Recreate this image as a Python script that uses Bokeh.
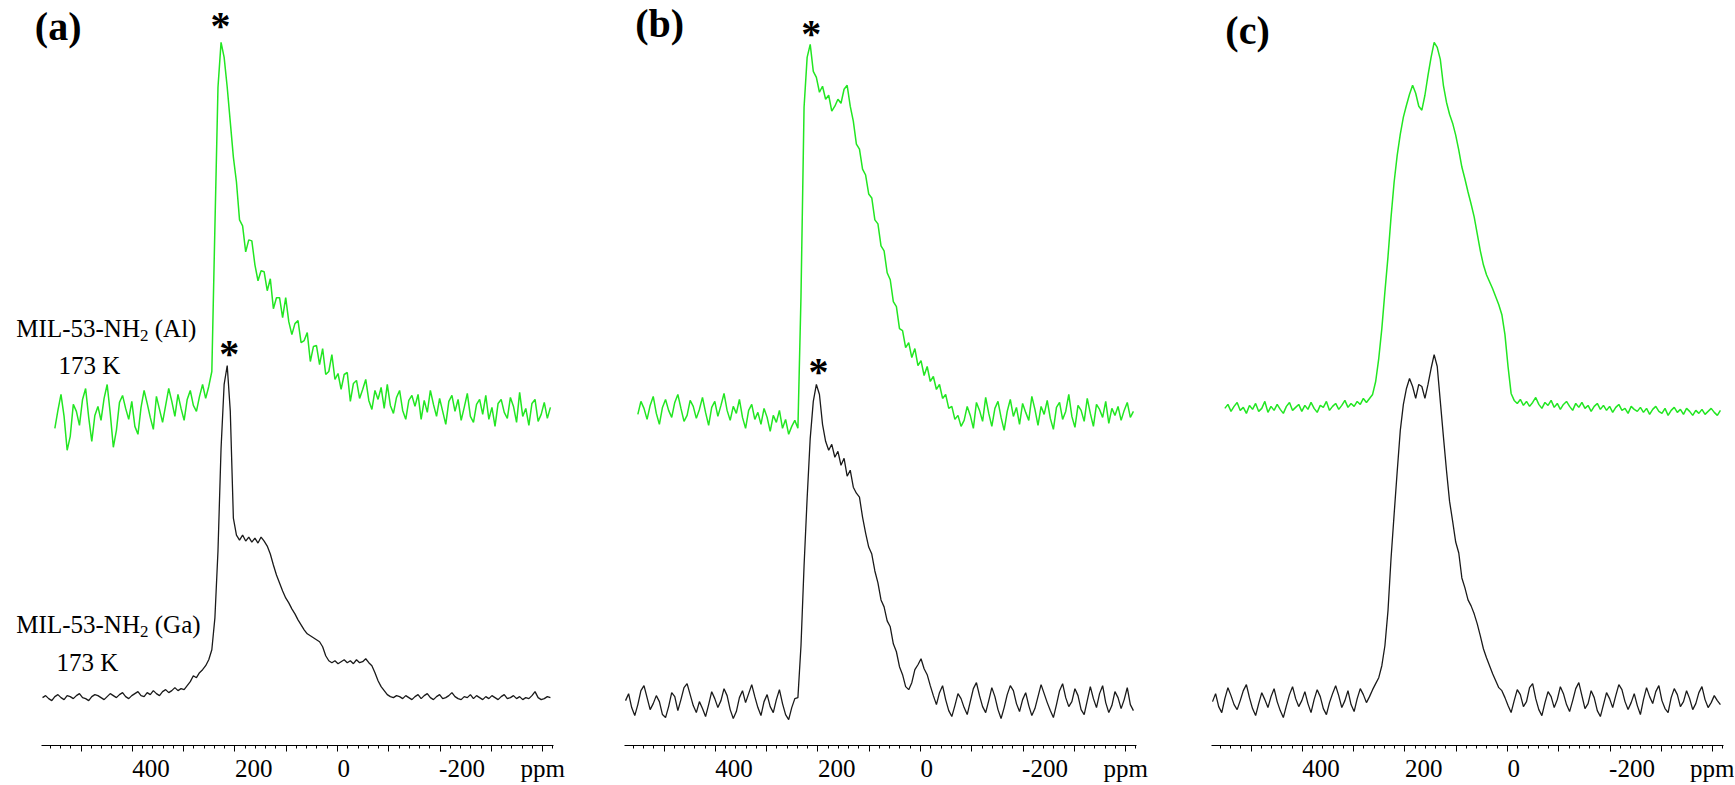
import numpy as np
from bokeh.plotting import figure
from bokeh.models import Range1d, FixedTicker, Label
from bokeh.layouts import row
from bokeh.embed import file_html
from bokeh.resources import INLINE

# ---------------- axis (chemical shift, ppm) ----------------
AX_START, AX_END = 577, -421          # extent of the drawn ppm axis
PPM_PER_PX = (AX_START - AX_END) / 512.0
MAJOR_TICKS = [500, 400, 300, 200, 100, 0, -100, -200, -300, -400]
MINOR_TICKS = list(range(560, -421, -20))
UNIT_LABEL = "ppm"
TICK_TEXT = {400: "400", 200: "200", 0: "0", -200: "-200", -400: UNIT_LABEL}

# ppm extent of the sampled spectra (uniformly sampled)
GREEN_PPM = (551, -415)
BLACK_PPM = (575, -415)

# ---------------- spectra (intensity, arbitrary units) ----------------
# (a) MIL-53-NH2 (Al), 173 K  (green)
a_green = [318, 336, 352, 330, 296, 310, 342, 335, 321, 347,
           358, 329, 305, 331, 340, 326, 348, 362, 333, 299,
           316, 344, 351, 338, 327, 345, 320, 312, 339, 356,
           343, 329, 317, 350, 337, 324, 341, 358, 345, 330,
           352, 338, 326, 347, 356, 341, 335, 350, 362, 348,
           360, 375, 520, 660, 705, 690, 660, 625, 590,
           565, 527, 521, 495, 507, 506, 482, 466, 476, 475,
           456, 468, 438, 449, 449, 429, 449, 425, 412, 423,
           426, 404, 406, 414, 385, 400, 401, 382, 398, 372,
           375, 392, 367, 373, 357, 372, 374, 345, 363, 366,
           348, 357, 367, 346, 337, 356, 347, 359, 338, 362,
           341, 333, 349, 356, 336, 327, 346, 351, 340, 352,
           327, 346, 334, 356, 342, 330, 348, 335, 322, 345,
           351, 335, 347, 326, 339, 353, 330, 324, 342, 347,
           332, 351, 327, 339, 320, 343, 347, 334, 328, 349,
           340, 324, 354, 330, 338, 321, 343, 347, 325, 332,
           344, 328, 339]
# (a) MIL-53-NH2 (Ga), 173 K  (black)
a_black = [48, 50, 47, 45, 49, 51, 48, 46, 50, 49,
           47, 50, 52, 48, 47, 45, 49, 51, 50, 48,
           46, 49, 52, 50, 48, 51, 53, 49, 47, 50,
           52, 54, 50, 49, 53, 51, 55, 52, 50, 54,
           56, 53, 55, 58,
           55, 57, 56, 60, 64, 70, 68, 73, 76, 80,
           86, 96, 128, 195, 298, 362, 381, 335, 228, 211,
           206, 211, 205, 209, 204, 208, 203, 209, 205, 200,
           192, 181, 171, 163, 155, 148, 143, 137, 132, 126,
           121, 116, 112, 110, 108, 106, 104, 99, 90, 85,
           83, 85, 82, 84, 86, 83, 85, 82, 86, 83,
           84, 87, 83, 80, 73, 65, 59, 55, 51, 49,
           48, 50,
           49, 47, 50, 48, 46, 49, 51, 47, 50, 52,
           48, 46, 49, 51, 47, 48, 50, 53, 49, 47,
           46, 49, 48, 51, 47, 50, 48, 46, 49, 47,
           50, 48, 46, 49, 51, 47, 48, 50, 47, 49,
           46, 48, 47, 50, 54, 48, 46, 47, 49, 48]
# (b) green
b_green = [332, 345, 338, 327, 341, 350, 333, 322, 339, 347,
           336, 329, 344, 352, 338, 325, 331, 346, 340, 328,
           337, 349, 334, 321, 339, 345, 330, 341, 353, 336,
           326, 340, 333, 347, 329, 318, 336, 342, 327, 334,
           322, 338, 329, 315, 331, 324, 336, 318, 327, 312,
           320, 326, 318,
           450, 640, 690, 703, 676, 670, 655, 661, 648, 652,
           636, 641, 648, 644, 658, 662, 641, 626, 603, 598,
           578, 572, 553, 549, 527, 523, 501, 496, 474, 467,
           445, 440, 418, 416, 399, 404, 389, 398, 381, 386,
           371, 380, 365, 370, 357, 362, 348, 352, 338, 340,
           327, 331, 320,
           326, 340, 331, 318, 344, 336, 325, 349, 333, 320,
           338, 345, 329, 316, 335, 347, 330, 339, 322, 343,
           334, 326, 350, 337, 321, 340, 332, 346, 328, 317,
           339, 344, 327, 335, 352, 330, 319, 341, 336, 325,
           348, 333, 320, 342, 337, 329, 345, 323, 338, 331,
           340, 326, 336, 344, 329, 335]
# (b) black
b_black = [45, 52, 38, 30, 41, 55, 60, 48, 36, 42,
           50, 44, 31, 28, 39, 53, 49, 35, 46, 58,
           62, 51, 40, 33, 44, 37, 29, 41, 54, 47,
           38, 45, 57, 50, 36, 27, 34, 48, 55, 43,
           52, 61, 49, 38, 30, 44, 51, 39, 33, 46,
           56, 42, 31, 26, 38, 47,
           48, 100, 180, 248, 308, 345, 362, 352, 322, 305,
           296, 302, 289, 295, 281, 288, 270, 276, 259, 253,
           249, 229, 213, 199, 192, 175, 163, 146, 139, 125,
           119, 102, 94, 79, 71, 59, 56, 63, 76, 81,
           87, 77, 71, 60, 50,
           41, 53, 60, 46, 35, 29, 40, 52, 47, 38,
           31, 44, 57, 63, 50, 39, 33, 45, 58, 49,
           36, 27, 38, 51, 60, 55, 42, 34, 46, 53,
           40, 30, 37, 49, 61, 52, 43, 35, 28, 41,
           55, 62, 48, 39, 44, 57, 50, 36, 31, 45,
           59, 47, 38, 52, 60, 43, 33, 40, 54, 48,
           37, 46, 58, 41, 35]
# (c) green
c_green = [338, 342, 335, 340, 344, 336, 339, 333, 341, 337,
           343, 335, 338, 345, 334, 340, 336, 342, 337, 333,
           340, 344, 336, 339, 342, 335, 341, 337, 344, 338,
           334, 341, 339, 345, 336, 340, 343, 337, 341, 346,
           339, 343, 340, 345, 342, 348,
           344, 348, 352, 365, 388, 418, 455, 490, 530, 565,
           592, 613, 630, 642, 653, 662, 654, 641, 637, 652,
           672, 690, 705, 700, 688, 662, 645, 633, 624, 612,
           597, 580, 568, 555, 543, 530, 513, 496, 482, 472,
           465, 458, 450, 442, 432, 412, 380, 353, 346,
           343, 347, 341, 345, 340, 344, 349, 342, 338, 344,
           341, 346, 339, 343, 337, 342, 345, 340, 336, 343,
           339, 344, 338, 341, 335, 340, 343, 337, 341, 336,
           340, 334, 339, 342, 336, 338, 333, 340, 337, 335,
           339, 334, 338, 332, 337, 340, 335, 333, 338, 331,
           336, 339, 334, 337, 332, 338, 335, 331, 336, 333,
           337, 332, 335, 338, 334, 331, 336]
# (c) black
c_black = [44, 52, 39, 33, 47, 58, 50, 41, 36, 45,
           55, 61, 48, 37, 30, 42, 53, 46, 38, 49,
           57, 44, 35, 28, 40, 51, 59, 47, 39, 45,
           54, 42, 33, 46, 56, 49, 37, 31, 43, 52,
           60, 50, 38, 45, 55, 41, 34, 47, 57, 51,
           43, 49, 56, 62,
           68, 80, 100, 135, 188, 232, 275, 316, 342, 358,
           368, 360, 348, 362, 360, 348, 362, 378, 392, 380,
           345, 310, 276, 245, 225, 204, 193, 168, 158, 146,
           140, 132, 122, 110, 97, 88, 80, 72, 65, 58, 55,
           48, 40, 33, 45, 56, 51, 39, 44, 58, 62,
           47, 36, 30, 43, 54, 49, 38, 46, 59, 52,
           41, 34, 45, 57, 63, 50, 37, 42, 55, 48,
           35, 29, 41, 53, 47, 38, 50, 61, 56, 44,
           36, 43, 52, 40, 31, 46, 58, 49, 42, 54,
           60, 45, 37, 33, 48, 57, 51, 39, 44, 55,
           47, 36, 42, 53, 59, 46, 38, 43, 50, 45, 41]

# ---------------- annotation texts ----------------
PANEL_TAGS = ["(a)", "(b)", "(c)"]
SAMPLE_AL = ("MIL-53-NH", "2", "(Al)")
SAMPLE_GA = ("MIL-53-NH", "2", "(Ga)")
TEMPERATURE = "173 K"
PEAK_MARK = "*"

GREEN = "#22e622"
BLACK = "#1a1a1a"
FONT = "Liberation Serif"
NBSP = "\u00a0"
H = 784
AXIS_PANEL = 37
Y_TOP = H - AXIS_PANEL


def tick_label(text):
    # left-align numeric labels on their tick (Times metrics: digit .5em, hyphen .333em)
    if text == UNIT_LABEL:
        return text
    width_em = sum(0.5 if c.isdigit() else 0.333 for c in text)
    return NBSP * int(round(width_em / 0.25)) + text


def make_panel(width, axis_offset, green_vals, black_vals):
    x_start = AX_START + axis_offset * PPM_PER_PX
    x_end = AX_START - (width - axis_offset) * PPM_PER_PX
    p = figure(width=width, height=H, x_range=Range1d(x_start, x_end),
               y_range=Range1d(0, Y_TOP), output_backend="svg",
               toolbar_location=None, y_axis_location=None,
               min_border_left=0, min_border_right=0,
               min_border_top=0, min_border_bottom=AXIS_PANEL)
    p.outline_line_color = None
    p.xgrid.grid_line_color = None
    p.ygrid.grid_line_color = None
    ax = p.xaxis[0]
    ax.bounds = (AX_END, AX_START)
    ax.ticker = FixedTicker(ticks=MAJOR_TICKS, minor_ticks=MINOR_TICKS)
    ax.major_label_overrides = {t: tick_label(TICK_TEXT[t]) if t in TICK_TEXT else ""
                                for t in MAJOR_TICKS}
    ax.axis_line_color = "black"
    ax.axis_line_width = 1.2
    ax.major_tick_line_color = "black"
    ax.minor_tick_line_color = "black"
    ax.major_tick_out = 6
    ax.major_tick_in = 0
    ax.minor_tick_out = 3
    ax.minor_tick_in = 0
    ax.major_label_text_font = FONT
    ax.major_label_text_font_size = "25px"
    ax.major_label_text_color = "black"
    ax.major_label_standoff = 3

    gx = np.linspace(GREEN_PPM[0], GREEN_PPM[1], len(green_vals))
    bx = np.linspace(BLACK_PPM[0], BLACK_PPM[1], len(black_vals))
    p.line(gx, green_vals, line_color=GREEN, line_width=1.5)
    p.line(bx, black_vals, line_color=BLACK, line_width=1.3)
    return p


def add_text(p, x, baseline, text, size=25, bold=False, align="left", x_offset=0):
    p.add_layout(Label(x=x, y=baseline + 0.42 * size, text=text, text_font=FONT,
                       text_font_size=f"{size}px",
                       text_font_style="bold" if bold else "normal",
                       text_color="black", text_align=align,
                       text_baseline="alphabetic", x_offset=x_offset))


def add_mark(p, x, center):
    p.add_layout(Label(x=x, y=center - 3.5, text=PEAK_MARK, text_font=FONT,
                       text_font_size="40px", text_font_style="bold",
                       text_color="black", text_align="center",
                       text_baseline="alphabetic"))


def add_sample(p, x, baseline, parts):
    add_text(p, x, baseline, parts[0])
    add_text(p, x, baseline - 4, parts[1], size=17, x_offset=123.6)
    add_text(p, x, baseline, parts[2], x_offset=138.4)


pa = make_panel(590, 41, a_green, a_black)
pb = make_panel(585, 34, b_green, b_black)
pc = make_panel(559, 36, c_green, c_black)

add_text(pa, 590, 704, PANEL_TAGS[0], size=40, bold=True)
add_text(pb, 556, 707, PANEL_TAGS[1], size=40, bold=True)
add_text(pc, 550, 700, PANEL_TAGS[2], size=40, bold=True)

add_mark(pa, 228, 725)
add_mark(pa, 211, 397)
add_mark(pb, 213, 717)
add_mark(pb, 199, 379)

add_sample(pa, 626, 408, SAMPLE_AL)
add_text(pa, 544, 371, TEMPERATURE)
add_sample(pa, 626, 111, SAMPLE_GA)
add_text(pa, 548, 73, TEMPERATURE)

layout = row(pa, pb, pc)
open("out.html", "w").write(file_html(layout, INLINE))
